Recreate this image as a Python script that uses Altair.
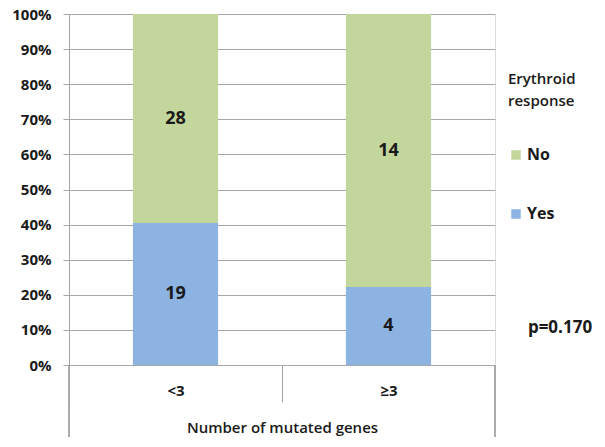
import altair as alt
import pandas as pd

categories = ["<3", "≥3"]
yes_counts = [19, 4]
no_counts = [28, 14]
responses = ["No", "Yes"]
colors = ["#c3d69b", "#8db3e2"]
p_text = "p=0.170"
y_ticks = [0.0, 0.1, 0.2, 0.3, 0.4, 0.5, 0.6, 0.7, 0.8, 0.9, 1.0]

rows = []
for c, y, n in zip(categories, yes_counts, no_counts):
    tot = y + n
    rows.append({"group": c, "resp": "Yes", "count": y, "order": 0, "mid": (y / 2) / tot})
    rows.append({"group": c, "resp": "No", "count": n, "order": 1, "mid": (y + n / 2) / tot})
df = pd.DataFrame(rows)

FONT = "Open Sans"
W, H = 426, 351
GRAY = "#a6a6a6"
INK = "#1a1a1a"

xscale = alt.Scale(domain=categories, paddingInner=0, paddingOuter=0)
yscale = alt.Scale(domain=[0, 1], nice=False)

xaxis = alt.Axis(title="Number of mutated genes", labelAngle=0,
                 tickBand="extent", tickSize=37, tickColor=GRAY,
                 domainColor=GRAY, labelPadding=-19,
                 labelFontSize=15, labelFont=FONT, labelFontWeight="bold",
                 labelColor=INK,
                 titleFont=FONT, titleFontSize=15, titleFontWeight=600,
                 titleColor=INK, titleY=62, titleBaseline="middle")
yaxis = alt.Axis(title=None, format=".0%", values=y_ticks,
                 labelOverlap=False,
                 gridColor=GRAY, domainColor=GRAY,
                 tickColor=GRAY, tickSize=6, labelPadding=12,
                 labelFontSize=15, labelFont=FONT, labelFontWeight="bold",
                 labelColor=INK)

bars = alt.Chart(df).mark_bar(width=alt.RelativeBandSize(0.4)).encode(
    x=alt.X("group:N", scale=xscale, sort=categories, axis=xaxis),
    y=alt.Y("count:Q", stack="normalize", scale=yscale, axis=yaxis),
    color=alt.Color("resp:N", scale=alt.Scale(domain=responses, range=colors),
                    legend=alt.Legend(title=["Erythroid", "response"], orient="none",
                                      legendX=439, legendY=58,
                                      titleFont=FONT, titleFontSize=15, titleFontWeight=600,
                                      titleColor=INK, titleLineHeight=22,
                                      titlePadding=38, symbolType="square",
                                      symbolSize=90, symbolStrokeWidth=0,
                                      labelFont=FONT, labelFontSize=16,
                                      labelFontWeight="bold", labelColor=INK,
                                      rowPadding=43, labelOffset=3)),
    order=alt.Order("order:Q"),
)

labels = alt.Chart(df).mark_text(font=FONT, fontSize=18, fontWeight="bold", color=INK).encode(
    x=alt.X("group:N", scale=xscale, sort=categories, axis=xaxis),
    y=alt.Y("mid:Q", scale=yscale, axis=yaxis),
    text="count:Q",
)

rule_left = alt.Chart(df).mark_rule(color=GRAY).encode(
    x=alt.value(0), y=alt.value(H), y2=alt.value(H + 72))
rule_right = alt.Chart(df).mark_rule(color=GRAY).encode(
    x=alt.value(W), y=alt.value(H), y2=alt.value(H + 72))

ptext = alt.Chart(pd.DataFrame({"t": [p_text]})).mark_text(
    font=FONT, fontSize=17, fontWeight="bold", color=INK, align="center", baseline="middle"
).encode(x=alt.value(491), y=alt.value(314), text="t:N")

chart = alt.layer(bars, labels, rule_left, rule_right, ptext).properties(
    width=W, height=H,
    autosize=alt.AutoSizeParams(type="none"),
    padding={"left": 61, "top": 6, "right": 100, "bottom": 74},
).configure_view(stroke=None).configure(background="white")

chart.save("out.html", embed_options={"renderer": "svg", "actions": False})
